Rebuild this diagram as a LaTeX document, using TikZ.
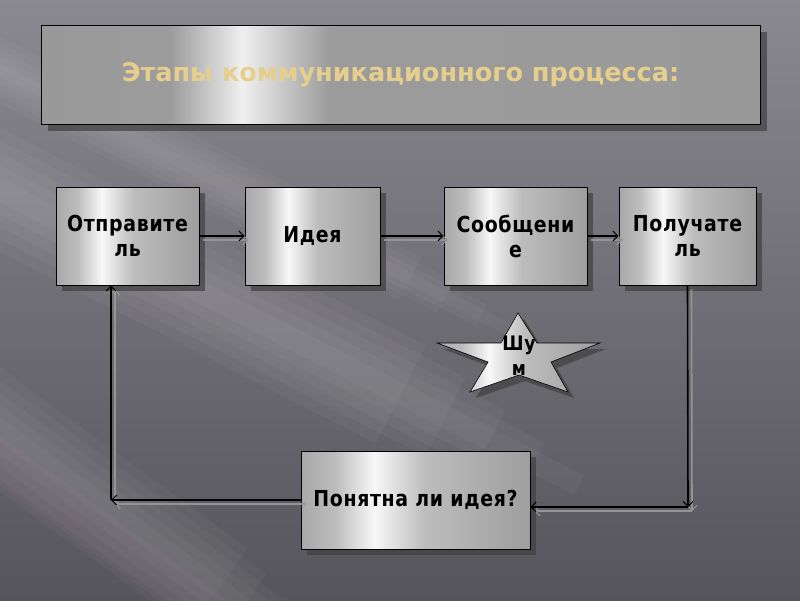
\documentclass[tikz,border=0pt]{standalone}
\usepackage{fontspec}
\newfontfamily\bxfont[FakeStretch=0.86,LetterSpace=3]{DejaVu Sans}
\newfontfamily\ttlfont{DejaVu Sans}
\usetikzlibrary{arrows.meta,shadows}
\definecolor{bgA}{HTML}{8A8890}
\definecolor{bgB}{HTML}{56555B}
\definecolor{gold}{HTML}{E6CF8C}
\pgfdeclarehorizontalshading{silverbox}{100bp}{color(0bp)=(black!34);color(25bp)=(black!34);color(32.5bp)=(black!26);color(41bp)=(black!3);color(52bp)=(black!26);color(75bp)=(black!38);color(100bp)=(black!38)}
\pgfdeclarehorizontalshading{silvertitle}{100bp}{color(0bp)=(black!40);color(25bp)=(black!40);color(34bp)=(black!39);color(39bp)=(black!6);color(45bp)=(black!39);color(75bp)=(black!40);color(100bp)=(black!40)}
\tikzset{
  stage/.style={draw=black, line width=0.8pt, shading=silverbox, minimum height=98pt,
    align=center, font=\bxfont\bfseries\fontsize{22}{25}\selectfont, text=black,
    drop shadow={shadow xshift=6pt, shadow yshift=-6pt, fill=black!75, opacity=0.7}},
  conn/.style={line width=1.6pt, draw=black, -{Straight Barb[length=5pt,width=10pt,line width=1pt]}},
  connsh/.style={conn, draw=black!42, transform canvas={xshift=4pt,yshift=-4pt}},
}
\begin{document}
\begin{tikzpicture}[x=1pt,y=-1pt]
\useasboundingbox (0,0) rectangle (800,600);
% background
\shade[shading angle=-50, top color=bgA, bottom color=bgB] (0,0) rectangle (800,600);
\begin{scope}
\clip (0,0) rectangle (800,600);
\foreach \w in {1,0.8,0.6,0.4,0.2} {
  \fill[white, opacity=0.036, rotate around={-27:(0,190)}] (-100,190-55*\w) rectangle (700-250*\w,190+55*\w);
  \fill[white, opacity=0.03, rotate around={-27:(0,70)}] (-100,70-30*\w) rectangle (620-200*\w,70+30*\w);
  \fill[white, opacity=0.032, rotate around={-36:(0,430)}] (-100,430-50*\w) rectangle (420-150*\w,430+50*\w);
}
\fill[magenta!40!white, opacity=0.05, rotate around={-36:(0,460)}] (-100,440) rectangle (300,480);
\end{scope}
% title
\node[draw=black, line width=0.8pt, shading=silvertitle, minimum width=719pt, minimum height=99pt,
  drop shadow={shadow xshift=7pt, shadow yshift=-7pt, fill=black!75, opacity=0.7},
  font=\ttlfont\bfseries\fontsize{25.5}{30}\selectfont, text=gold] (title) at (400.5,74.5) {Этапы коммуникационного процесса:};
% stages
\node[stage, minimum width=143pt] (s) at (127.5,236) {Отправите\\ль};
\node[stage, minimum width=135pt] (i) at (312.5,236) {Идея};
\node[stage, minimum width=143pt] (m) at (515.5,236) {Сообщени\\е};
\node[stage, minimum width=137pt] (p) at (687.5,236) {Получате\\ль};
\node[stage, minimum width=229pt] (q) at (415.5,500) {Понятна ли идея?};
% star
\fill[black!75, opacity=0.7, shift={(6pt,-6pt)}] (518,313) -- (537,343) -- (600,343) -- (551,362) -- (568,392) -- (519,375) -- (470,392) -- (488,362) -- (437,343) -- (501,343) -- cycle;
\shade[draw=black, line width=0.6pt, shading=silverbox] (518,313) -- (537,343) -- (600,343) -- (551,362) -- (568,392) -- (519,375) -- (470,392) -- (488,362) -- (437,343) -- (501,343) -- cycle;
\node[align=center, font=\bxfont\bfseries\fontsize{20}{25}\selectfont, text=black, inner sep=0pt] (n) at (519,356) {Шу\\м};
% connectors
\coordinate (cL) at (111,500);
\coordinate (cR) at (688,507);
\foreach \st in {connsh, conn} {
  \draw[\st] (s.east) -- (i.west);
  \draw[\st] (i.east) -- (m.west);
  \draw[\st] (m.east) -- (p.west);
  \draw[\st] (p.south) -- (cR);
  \draw[\st] (cR) -- (q.east |- cR);
  \draw[\st] (q.west) -- (cL);
  \draw[\st] (cL) -- (cL |- s.south);
}
\end{tikzpicture}
\end{document}
